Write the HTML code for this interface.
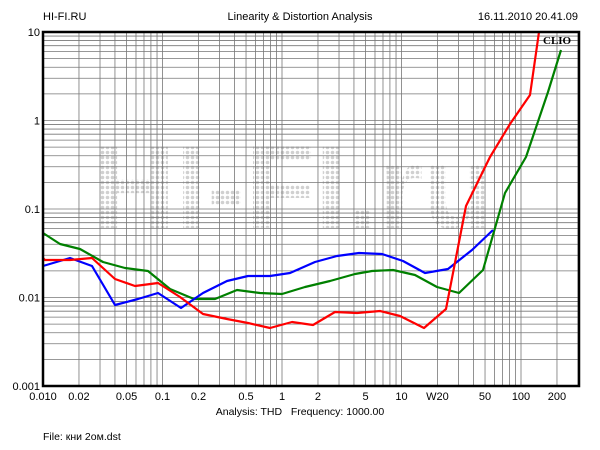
<!DOCTYPE html>
<html><head><meta charset="utf-8"><style>
body{margin:0;background:#fff}
svg{display:block}
text{font-family:"Liberation Sans",sans-serif;font-size:11px;fill:#000}
</style></head><body>
<svg width="600" height="450" viewBox="0 0 600 450" xmlns="http://www.w3.org/2000/svg">
<defs>
<pattern id="dots" width="5" height="5" patternUnits="userSpaceOnUse"><circle cx="2.5" cy="2.5" r="1.8" fill="#d0d0d0"/></pattern>
</defs>
<text x="43" y="20">HI-FI.RU</text>
<text x="300" y="20" text-anchor="middle">Linearity &amp; Distortion Analysis</text>
<text x="578" y="20" text-anchor="end">16.11.2010 20.41.09</text>
<text x="93" y="228" style="font-size:118px;font-weight:bold;fill:url(#dots)" textLength="400" lengthAdjust="spacingAndGlyphs">HI-FI.ru</text>
<g id="grid" stroke="#777" stroke-width="0.8"></g>
<g fill="none" stroke-width="2.2" stroke-linejoin="round">
<polyline stroke="#008000" points="43,233 60,244 80,249 103,262 125,268 148,271 170,289 194,299 215,299 237,290 260,293 282,294 305,287 330,281 355,274 372,271 393,270 415,275 437,287 459,293 483,270 505,193 526,157 548,92 561,50"/>
<polyline stroke="#0000ff" points="43,266 70,258 92,266 115,305 138,299 158,293 181,308 203,293 227,281 248,276 270,276 290,273 315,262 337,256 359,253 382,254 403,261 425,273 448,269 472,250 493,230"/>
<polyline stroke="#ff0000" points="43,258 45,260 70,260 92,258 115,279 135,286 158,283 180,297 203,314 227,319 248,323 270,328 292,322 313,325 335,312 357,313 380,311 400,316 424,328 446,309 466,206 490,157 510,124 530,95 539,32"/>
</g>
<rect x="43" y="32" width="536" height="354" fill="none" stroke="#000" stroke-width="2.5"/>
<text x="543" y="44" style="font-family:'Liberation Serif',serif;font-weight:bold;font-size:11px">CLIO</text>
<g id="lab"></g>
<text x="300" y="415" text-anchor="middle" style="font-size:10.5px">Analysis: THD&#160;&#160;&#160;Frequency: 1000.00</text>
<text x="43" y="440" style="font-size:10.5px">File: кни 2ом.dst</text>
<script>
var g=document.getElementById('grid'),L=document.getElementById('lab'),ns='http://www.w3.org/2000/svg';
function ln(x1,y1,x2,y2){var l=document.createElementNS(ns,'line');l.setAttribute('x1',x1);l.setAttribute('y1',y1);l.setAttribute('x2',x2);l.setAttribute('y2',y2);g.appendChild(l);}
function tx(x,y,s,a){var t=document.createElementNS(ns,'text');t.setAttribute('x',x);t.setAttribute('y',y);t.setAttribute('text-anchor',a);t.textContent=s;L.appendChild(t);}
var xd=119.5,yd=88.5;
for(var d=0;d<5;d++)for(var m=1;m<10;m++){var x=43+(d+Math.log10(m))*xd;if(x>43.5&&x<578.5)ln(x,32,x,386);}
for(var d=0;d<4;d++)for(var m=1;m<10;m++){var y=386-(d+Math.log10(m))*yd;if(y>32.5&&y<385.5)ln(43,y,579,y);}
var xl=[[0.01,'0.010'],[0.02,'0.02'],[0.05,'0.05'],[0.1,'0.1'],[0.2,'0.2'],[0.5,'0.5'],[1,'1'],[2,'2'],[5,'5'],[10,'10'],[20,'W20'],[50,'50'],[100,'100'],[200,'200']];
xl.forEach(function(p){tx(43+Math.log10(p[0]/0.01)*xd,400,p[1],'middle');});
[['10',32],['1',120.5],['0.1',209],['0.01',297.5],['0.001',386]].forEach(function(p){tx(40,p[1]+4,p[0],'end');});
</script>
</svg>
</body></html>
